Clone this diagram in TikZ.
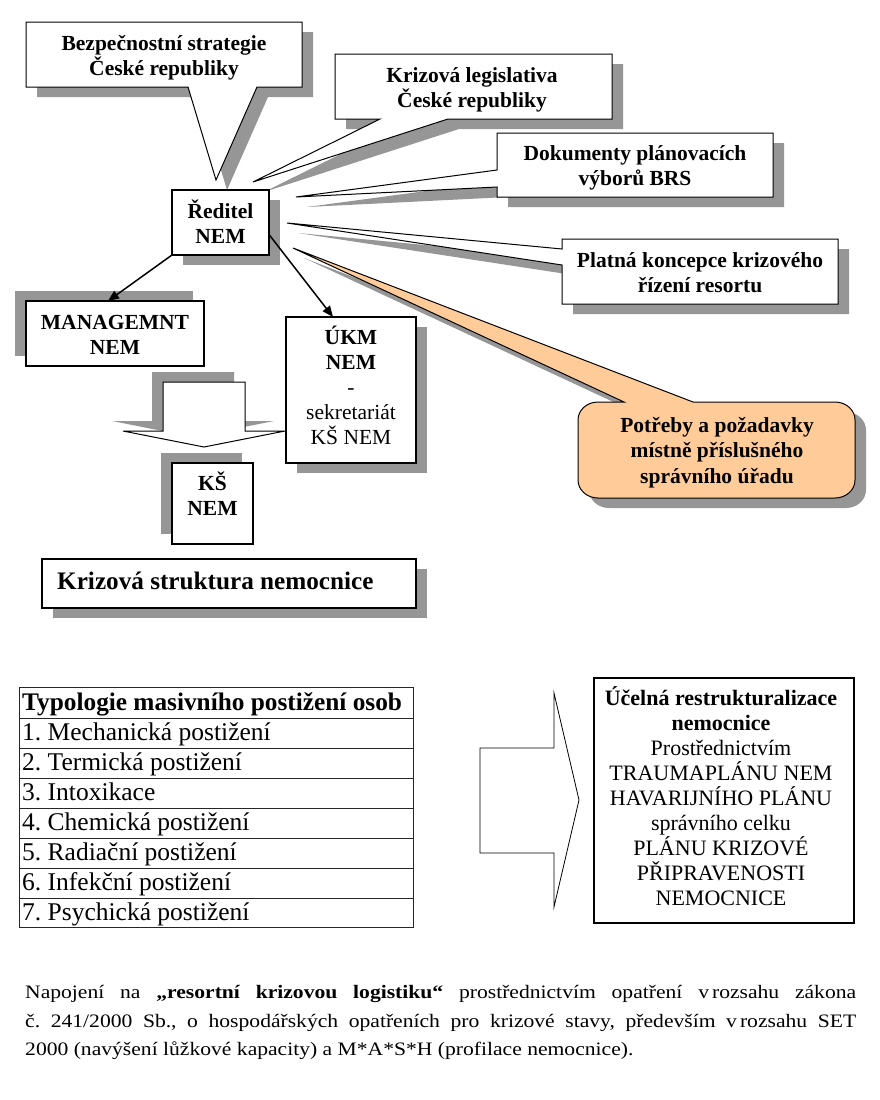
\documentclass[tikz,border=0pt]{standalone}
\usepackage{fontspec}
\setmainfont{Liberation Serif}
\usetikzlibrary{arrows.meta,calc}
\frenchspacing
\definecolor{shadowgray}{RGB}{150,150,150}
\definecolor{peach}{RGB}{255,204,153}
\tikzset{
  shSE/.style={preaction={fill=shadowgray,draw=none,transform canvas={shift={(11pt,-10pt)}}}},
  shNW/.style={preaction={fill=shadowgray,draw=none,transform canvas={shift={(-11pt,10pt)}}}},
  callout/.style={fill=white,draw=black,line width=1pt,line join=miter,shSE},
  box/.style={draw=black,fill=white,line width=1.1pt,inner sep=0pt,outer sep=0pt},
  bt/.style={font=\fontsize{21.5}{25}\selectfont\bfseries,anchor=base,inner sep=0pt},
  rt/.style={font=\fontsize{21.5}{25}\selectfont,anchor=base,inner sep=0pt},
  tabhead/.style={font=\fontsize{25.3}{30}\selectfont\bfseries,anchor=base west,inner sep=0pt},
  tabrow/.style={font=\fontsize{25.5}{30}\selectfont,anchor=base west,inner sep=0pt},
  rbb/.style={font=\fontsize{22}{25}\selectfont\bfseries,anchor=base,inner sep=0pt},
  rbr/.style={font=\fontsize{22}{25}\selectfont,anchor=base,inner sep=0pt},
  para/.style={font=\fontsize{21.6}{25}\selectfont,anchor=base west,inner sep=0pt},
  conn/.style={line width=1.5pt,-{Triangle[length=11pt,width=9pt]}},
  tabline/.style={line width=1pt,draw=black!85},
}
\newcommand{\vsq}[1]{\scalebox{1}[0.88]{#1}}
\begin{document}
\begin{tikzpicture}[x=1pt,y=-1pt]
\useasboundingbox (0,0) rectangle (880,1100);
\fill[white] (0,0) rectangle (880,1100);

% callout 1
\path[callout] (26,22) -- (302,22) -- (302,87) -- (257,87) -- (216,180) -- (188,87) -- (26,87) -- cycle;
\node[bt] (c1a) at (164,50) {Bezpečnostní strategie};
\node[bt] (c1b) at (164,75) {České republiky};

% callout 2
\path[callout] (335,54) -- (612,54) -- (612,119) -- (448,119) -- (253,182) -- (380,119) -- (335,119) -- cycle;
\node[bt] (c2a) at (472,82) {Krizová legislativa};
\node[bt] (c2b) at (472,107) {České republiky};

% callout 3
\path[callout] (497,133) -- (773,133) -- (773,197) -- (497,197) -- (497,187) -- (296,197) -- (497,170) -- cycle;
\node[bt] (c3a) at (635,160) {Dokumenty plánovacích};
\node[bt] (c3b) at (635,185) {výborů BRS};

% callout 4
\path[callout] (562,239) -- (838,239) -- (838,304) -- (562,304) -- (562,265) -- (287,223) -- (562,249) -- cycle;
\node[bt] (c4a) at (700,267) {Platná koncepce krizového};
\node[bt] (c4b) at (700,292) {řízení resortu};

% orange callout
\path[callout,fill=peach] (598,402) -- (624,402) -- (293,248) -- (693,402) -- (835,402)
  .. controls (846,402) and (855,410) .. (855,420) -- (855,480)
  .. controls (855,490) and (846,498) .. (835,498) -- (598,498)
  .. controls (587,498) and (578,490) .. (578,480) -- (578,420)
  .. controls (578,410) and (587,402) .. (598,402) -- cycle;
\node[bt] (c5a) at (717,432) {Potřeby a požadavky};
\node[bt] (c5b) at (717,457) {místně příslušného};
\node[bt] (c5c) at (717,483) {správního úřadu};

% Reditel
\node[box,shSE,minimum width=97pt,minimum height=65pt] (red) at (220.5,222.5) {};
\node[bt] (reda) at (220.5,218) {Ředitel};
\node[bt] (redb) at (220.5,243) {NEM};

% Management
\node[box,shNW,minimum width=178pt,minimum height=65pt] (mgmt) at (115,333.5) {};
\node[bt] (mgmta) at (115,329) {MANAGEMNT};
\node[bt] (mgmtb) at (115,354) {NEM};

% UKM
\node[box,shSE,minimum width=130pt,minimum height=146pt] (ukm) at (351,390) {};
\node[bt] (ukma) at (351,344) {ÚKM};
\node[bt] (ukmb) at (351,369) {NEM};
\node[rt] (ukmc) at (351,394) {-};
\node[rt] (ukmd) at (351,419) {sekretariát};
\node[rt] (ukme) at (351,444) {KŠ NEM};

% block arrow down
\path[fill=white,draw=black,line width=1pt,shNW] (163,382) -- (245,382) -- (245,431) -- (285,431) -- (204,447) -- (123,431) -- (163,431) -- cycle;

% KS NEM
\node[box,shNW,minimum width=81pt,minimum height=81pt] (ks) at (212.5,503.5) {};
\node[bt] (ksa) at (212.5,490) {KŠ};
\node[bt] (ksb) at (212.5,515) {NEM};

% Krizova struktura
\node[box,shSE,minimum width=374pt,minimum height=49pt] (kstr) at (229,583.5) {};
\node[font=\fontsize{25.2}{30}\selectfont\bfseries,anchor=base west,inner sep=0pt] (kstrt) at (57,589) {Krizová struktura nemocnice};

% connectors
\draw[conn] (red.south west) -- ([xshift=-7pt]mgmt.north);
\draw[conn] ([yshift=-12pt]red.east) -- ([xshift=-18pt]ukm.north);

% table
\node[draw=black!85,line width=1.1pt,minimum width=394pt,minimum height=240pt,inner sep=0pt,anchor=north west] (tab) at (19,687) {};
\foreach \yy in {718,748,778,808,838,868,898} \draw[tabline] (19,\yy) -- (413,\yy);
\node[tabhead] (th) at (22,710) {Typologie masivního postižení osob};
\node[tabrow] (r1) at (22,740) {1. Mechanická postižení};
\node[tabrow] (r2) at (22,770) {2. Termická postižení};
\node[tabrow] (r3) at (22,800) {3. Intoxikace};
\node[tabrow] (r4) at (22,830) {4. Chemická postižení};
\node[tabrow] (r5) at (22,860) {5. Radiační postižení};
\node[tabrow] (r6) at (22,890) {6. Infekční postižení};
\node[tabrow] (r7) at (22,920) {7. Psychická postižení};

% right block arrow
\path[fill=white,draw=black,line width=0.8pt] (480,748) -- (554,748) -- (554,693) -- (579,800) -- (554,907) -- (554,853) -- (480,853) -- cycle;

% right box
\node[box,minimum width=260pt,minimum height=245pt] (rbox) at (724,800.5) {};
\node[rbb] (rb1) at (721,705) {Účelná restrukturalizace};
\node[rbb] (rb2) at (721,730) {nemocnice};
\node[rbr] (rb3) at (721,755) {Prostřednictvím};
\node[rbr] (rb4) at (721,780) {TRAUMAPLÁNU NEM};
\node[rbr] (rb5) at (721,805) {HAVARIJNÍHO PLÁNU};
\node[rbr] (rb6) at (721,830) {správního celku};
\node[rbr] (rb7) at (721,855) {PLÁNU KRIZOVÉ};
\node[rbr] (rb8) at (721,880) {PŘIPRAVENOSTI};
\node[rbr] (rb9) at (721,905) {NEMOCNICE};

% paragraph
\node[para] (p1) at (25,998) {\vsq{\makebox[831pt][s]{Napojení na \textbf{„resortní krizovou logistiku“} prostřednictvím opatření v\kern3pt rozsahu zákona}}};
\node[para] (p2) at (25,1027) {\vsq{\makebox[831pt][s]{č. 241/2000 Sb., o hospodářských opatřeních pro krizové stavy, především v\kern3pt rozsahu SET}}};
\node[para] (p3) at (25,1055) {\vsq{2000 (navýšení lůžkové kapacity) a M*A*S*H (profilace nemocnice).}};
\end{tikzpicture}
\end{document}
